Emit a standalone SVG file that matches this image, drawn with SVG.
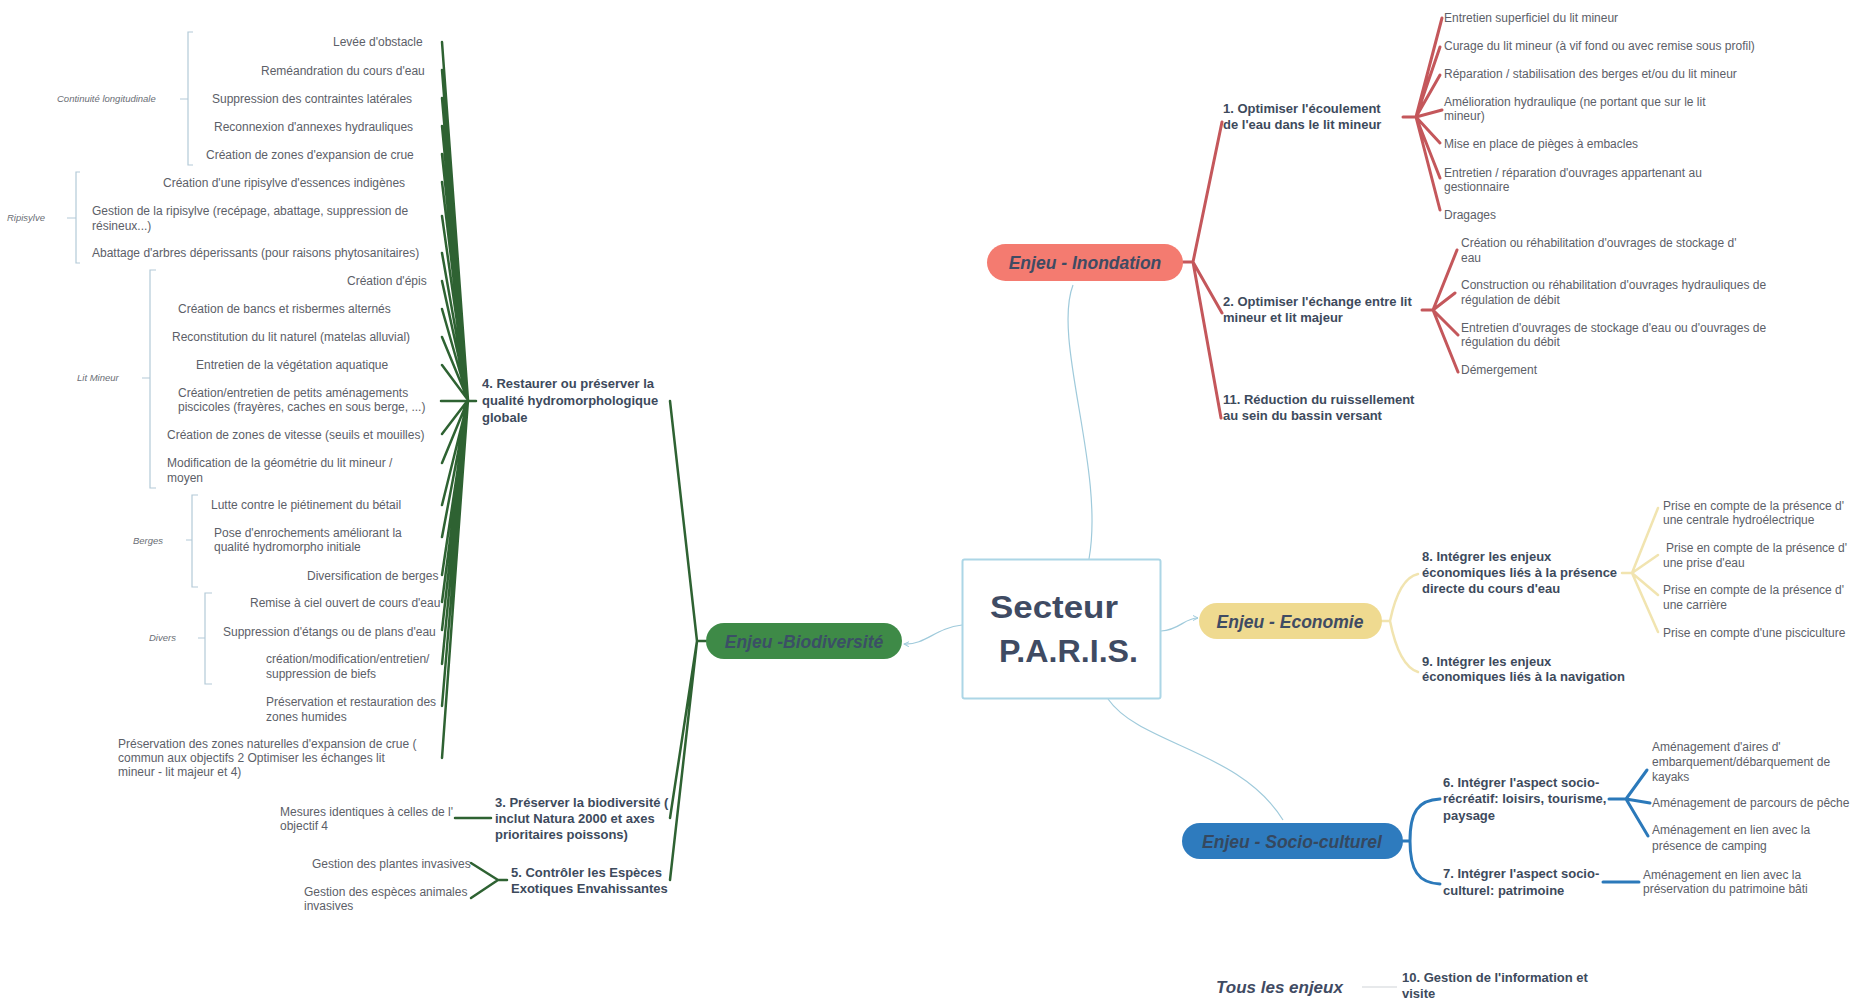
<svg xmlns="http://www.w3.org/2000/svg" width="1853" height="999" viewBox="0 0 1853 999">
<style>
text{font-family:"Liberation Sans",Arial,sans-serif}
.it{font-size:12px;fill:#5c6068}
.lb{font-size:13px;font-weight:bold;fill:#3d4a5c}
.ct{font-size:9.5px;font-style:italic;fill:#6a6e75}
.pt{font-size:17.5px;font-weight:bold;font-style:italic;text-anchor:middle}
.g{stroke:#2e6232;stroke-width:2.5;fill:none;stroke-linecap:round}
.r{stroke:#c4575b;stroke-width:3;fill:none;stroke-linecap:round}
.y{stroke:#f1e4b0;stroke-width:2.5;fill:none;stroke-linecap:round}
.b{stroke:#2b79ba;stroke-width:3;fill:none;stroke-linecap:round}
.br{stroke:#b3cad8;stroke-width:1.2;fill:none}
.cc{stroke:#9fcadb;stroke-width:1.2;fill:none}
</style>
<defs>
<marker id="ah" markerWidth="6" markerHeight="6" refX="5" refY="3" orient="auto" markerUnits="userSpaceOnUse">
<path d="M0,0.5 L5,3 L0,5.5" fill="none" stroke="#9fcadb" stroke-width="1"/>
</marker>
</defs>
<rect width="1853" height="999" fill="#ffffff"/>

<g id="connectors">
<!-- center to main topics -->
<path class="cc" d="M1089,559 C1105,470 1052,340 1073,285"/>
<path class="cc" d="M1161,631 C1180,630 1184,618 1198,618" marker-end="url(#ah)"/>
<path class="cc" d="M962,625 C935,628 926,645 904,644" marker-end="url(#ah)"/>
<path class="cc" d="M1108,699 C1140,745 1240,750 1283,820"/>

<!-- Inondation -->
<path class="r" d="M1183,262 H1193 M1193,262 L1222,122 M1193,262 L1222,313 M1193,262 L1221,418"/>
<path class="r" d="M1403,117 H1416 M1416,117 L1442,18 M1416,117 L1440,47 M1416,117 L1440,75 M1416,117 L1442,110 M1416,117 L1440,143 M1416,117 L1440,178 M1416,117 L1440,210"/>
<path class="r" d="M1422,310 H1433 M1433,310 L1457,250 M1433,310 L1455,293 M1433,310 L1458,335 M1433,310 L1458,372"/>

<!-- Economie -->
<path class="y" d="M1382,621 H1390 M1390,621 Q1399,578 1418,574 M1390,621 Q1399,666 1418,672"/>
<path class="y" d="M1622,573 H1632 M1632,573 L1658,508 M1632,573 L1658,555 M1632,573 L1658,595 M1632,573 L1658,632" stroke-width="2"/>

<!-- Socio-culturel -->
<path class="b" d="M1403,841 H1410 M1410,841 C1410,812 1418,800 1440,799 M1410,841 C1410,870 1418,883 1440,884"/>
<path class="b" d="M1609,799 H1626 M1626,799 L1647,770 M1626,799 L1650,803 M1626,799 L1648,836"/>
<path class="b" d="M1603,882 H1639"/>

<!-- Tous les enjeux -->
<path d="M1362,987 H1397" stroke="#cfd3d8" stroke-width="1.2" fill="none"/>

<!-- Biodiversite -->
<path class="g" d="M706,641 H697 M697,641 L670,401 M697,641 L670,818 M697,641 L670,880"/>
<path class="g" d="M476,401 H441"/>
<path class="g" d="M468,400 L442,42 M468,400 L442,70 M468,400 L442,98 M468,400 L442,126 M468,400 L442,154 M468,400 L442,182 M468,400 L442,216 M468,400 L442,253 M468,400 L442,281 M468,400 L442,309 M468,400 L442,337 M468,400 L442,365 M468,400 L442,434 M468,400 L442,463 M468,400 L442,505 M468,400 L442,537 M468,400 L442,575 M468,400 L442,602 M468,400 L442,630 M468,400 L442,664 M468,400 L442,706 M468,400 L442,758"/>
<path class="g" d="M455,818 H491"/>
<path class="g" d="M507,880 H498 M498,880 L471,863 M498,880 L471,898"/>

<!-- brackets -->
<path class="br" d="M193,32 H188 V165 H193 M180,99 H188"/>
<path class="br" d="M80,172 H76 V263 H80 M67,218 H76"/>
<path class="br" d="M156,270 H150 V488 H156 M142,378 H150"/>
<path class="br" d="M198,495 H192 V587 H198 M186,540 H192"/>
<path class="br" d="M212,593 H205 V684 H212 M198,638 H205"/>
</g>

<g id="center">
<rect x="962.5" y="559.5" width="198" height="139" rx="2" fill="#ffffff" stroke="#acd6e6" stroke-width="2"/>
<text x="990" y="618" font-size="32" font-weight="bold" fill="#3f4b63" textLength="128" lengthAdjust="spacingAndGlyphs">Secteur</text>
<text x="999" y="662" font-size="32" font-weight="bold" fill="#3f4b63" textLength="139" lengthAdjust="spacingAndGlyphs">P.A.R.I.S.</text>
</g>

<g id="enjeu-inondation">
<rect x="987" y="244" width="196" height="37" rx="18.5" fill="#f47b70"/>
<text class="pt" x="1085" y="269" fill="#3f4b63">Enjeu - Inondation</text>
</g>
<g id="enjeu-economie">
<rect x="1199" y="603" width="183" height="36" rx="18" fill="#efda90"/>
<text class="pt" x="1290" y="628" fill="#3f4b63">Enjeu - Economie</text>
</g>
<g id="enjeu-socio">
<rect x="1182" y="823" width="221" height="36" rx="18" fill="#2e7bbe"/>
<text class="pt" x="1292" y="848" fill="#35485f">Enjeu - Socio-culturel</text>
</g>
<g id="enjeu-biodiversite">
<rect x="706" y="623" width="196" height="36" rx="18" fill="#3e8a47"/>
<text class="pt" x="804" y="648" fill="#3b4f66">Enjeu -Biodiversité</text>
</g>

<g id="inondation-1">
<text class="lb" x="1223" y="113">1. Optimiser l'écoulement</text>
<text class="lb" x="1223" y="129">de l'eau dans le lit mineur</text>
</g>
<g id="inondation-1-items">
<text class="it" x="1444" y="22">Entretien superficiel du lit mineur</text>
<text class="it" x="1444" y="50">Curage du lit mineur (à vif fond ou avec remise sous profil)</text>
<text class="it" x="1444" y="78">Réparation / stabilisation des berges et/ou du lit mineur</text>
<text class="it" x="1444" y="106">Amélioration hydraulique (ne portant que sur le lit</text>
<text class="it" x="1444" y="120">mineur)</text>
<text class="it" x="1444" y="148">Mise en place de pièges à embacles</text>
<text class="it" x="1444" y="177">Entretien / réparation d'ouvrages appartenant au</text>
<text class="it" x="1444" y="191">gestionnaire</text>
<text class="it" x="1444" y="219">Dragages</text>
</g>
<g id="inondation-2">
<text class="lb" x="1223" y="306">2. Optimiser l'échange entre lit</text>
<text class="lb" x="1223" y="322">mineur et lit majeur</text>
</g>
<g id="inondation-2-items">
<text class="it" x="1461" y="247">Création ou réhabilitation d'ouvrages de stockage d'</text>
<text class="it" x="1461" y="262">eau</text>
<text class="it" x="1461" y="289">Construction ou réhabilitation d'ouvrages hydrauliques de</text>
<text class="it" x="1461" y="304">régulation de débit</text>
<text class="it" x="1461" y="332">Entretien d'ouvrages de stockage d'eau ou d'ouvrages de</text>
<text class="it" x="1461" y="346">régulation du débit</text>
<text class="it" x="1461" y="374">Démergement</text>
</g>
<g id="inondation-11">
<text class="lb" x="1223" y="404">11. Réduction du ruissellement</text>
<text class="lb" x="1223" y="420">au sein du bassin versant</text>
</g>

<g id="economie-8">
<text class="lb" x="1422" y="561">8. Intégrer les enjeux</text>
<text class="lb" x="1422" y="577">économiques liés à la présence</text>
<text class="lb" x="1422" y="593">directe du cours d'eau</text>
</g>
<g id="economie-8-items">
<text class="it" x="1663" y="510">Prise en compte de la présence d'</text>
<text class="it" x="1663" y="524">une centrale hydroélectrique</text>
<text class="it" x="1666" y="552">Prise en compte de la présence d'</text>
<text class="it" x="1663" y="567">une prise d'eau</text>
<text class="it" x="1663" y="594">Prise en compte de la présence d'</text>
<text class="it" x="1663" y="609">une carrière</text>
<text class="it" x="1663" y="637">Prise en compte d'une pisciculture</text>
</g>
<g id="economie-9">
<text class="lb" x="1422" y="666">9. Intégrer les enjeux</text>
<text class="lb" x="1422" y="681">économiques liés à la navigation</text>
</g>

<g id="socio-6">
<text class="lb" x="1443" y="787">6. Intégrer l'aspect socio-</text>
<text class="lb" x="1443" y="803">récréatif: loisirs, tourisme,</text>
<text class="lb" x="1443" y="820">paysage</text>
</g>
<g id="socio-6-items">
<text class="it" x="1652" y="751">Aménagement d'aires d'</text>
<text class="it" x="1652" y="766">embarquement/débarquement de</text>
<text class="it" x="1652" y="781">kayaks</text>
<text class="it" x="1652" y="807">Aménagement de parcours de pêche</text>
<text class="it" x="1652" y="834">Aménagement en lien avec la</text>
<text class="it" x="1652" y="850">présence de camping</text>
</g>
<g id="socio-7">
<text class="lb" x="1443" y="878">7. Intégrer l'aspect socio-</text>
<text class="lb" x="1443" y="895">culturel: patrimoine</text>
</g>
<g id="socio-7-item">
<text class="it" x="1643" y="879">Aménagement en lien avec la</text>
<text class="it" x="1643" y="893">préservation du patrimoine bâti</text>
</g>

<g id="tous-les-enjeux">
<text x="1216" y="993" font-size="17" font-weight="bold" font-style="italic" fill="#3f4b63">Tous les enjeux</text>
</g>
<g id="objectif-10">
<text class="lb" x="1402" y="982">10. Gestion de l'information et</text>
<text class="lb" x="1402" y="998">visite</text>
</g>

<g id="biodiv-4">
<text class="lb" x="482" y="388">4. Restaurer ou préserver la</text>
<text class="lb" x="482" y="405">qualité hydromorphologique</text>
<text class="lb" x="482" y="422">globale</text>
</g>
<g id="biodiv-4-categories">
<text class="ct" x="57" y="102">Continuité longitudinale</text>
<text class="ct" x="7" y="221">Ripisylve</text>
<text class="ct" x="77" y="381">Lit Mineur</text>
<text class="ct" x="133" y="544">Berges</text>
<text class="ct" x="149" y="641">Divers</text>
</g>
<g id="biodiv-4-items">
<text class="it" x="333" y="46">Levée d'obstacle</text>
<text class="it" x="261" y="75">Reméandration du cours d'eau</text>
<text class="it" x="212" y="103">Suppression des contraintes latérales</text>
<text class="it" x="214" y="131">Reconnexion d'annexes hydrauliques</text>
<text class="it" x="206" y="159">Création de zones d'expansion de crue</text>
<text class="it" x="163" y="187">Création d'une ripisylve d'essences indigènes</text>
<text class="it" x="92" y="215">Gestion de la ripisylve (recépage, abattage, suppression de</text>
<text class="it" x="92" y="230">résineux...)</text>
<text class="it" x="92" y="257">Abattage d'arbres déperissants (pour raisons phytosanitaires)</text>
<text class="it" x="347" y="285">Création d'épis</text>
<text class="it" x="178" y="313">Création de bancs et risbermes alternés</text>
<text class="it" x="172" y="341">Reconstitution du lit naturel (matelas alluvial)</text>
<text class="it" x="196" y="369">Entretien de la végétation aquatique</text>
<text class="it" x="178" y="397">Création/entretien de petits aménagements</text>
<text class="it" x="178" y="411">piscicoles (frayères, caches en sous berge, ...)</text>
<text class="it" x="167" y="439">Création de zones de vitesse (seuils et mouilles)</text>
<text class="it" x="167" y="467">Modification de la géométrie du lit mineur /</text>
<text class="it" x="167" y="482">moyen</text>
<text class="it" x="211" y="509">Lutte contre le piétinement du bétail</text>
<text class="it" x="214" y="537">Pose d'enrochements améliorant la</text>
<text class="it" x="214" y="551">qualité hydromorpho initiale</text>
<text class="it" x="307" y="580">Diversification de berges</text>
<text class="it" x="250" y="607">Remise à ciel ouvert de cours d'eau</text>
<text class="it" x="223" y="636">Suppression d'étangs ou de plans d'eau</text>
<text class="it" x="266" y="663">création/modification/entretien/</text>
<text class="it" x="266" y="678">suppression de biefs</text>
<text class="it" x="266" y="706">Préservation et restauration des</text>
<text class="it" x="266" y="721">zones humides</text>
<text class="it" x="118" y="748">Préservation des zones naturelles d'expansion de crue (</text>
<text class="it" x="118" y="762">commun aux objectifs 2 Optimiser les échanges lit</text>
<text class="it" x="118" y="776">mineur - lit majeur et 4)</text>
</g>

<g id="biodiv-3">
<text class="lb" x="495" y="807">3. Préserver la biodiversité (</text>
<text class="lb" x="495" y="823">inclut Natura 2000 et axes</text>
<text class="lb" x="495" y="839">prioritaires poissons)</text>
</g>
<g id="biodiv-3-item">
<text class="it" x="280" y="816">Mesures identiques à celles de l'</text>
<text class="it" x="280" y="830">objectif 4</text>
</g>
<g id="biodiv-5">
<text class="lb" x="511" y="877">5. Contrôler les Espèces</text>
<text class="lb" x="511" y="893">Exotiques Envahissantes</text>
</g>
<g id="biodiv-5-items">
<text class="it" x="312" y="868">Gestion des plantes invasives</text>
<text class="it" x="304" y="896">Gestion des espèces animales</text>
<text class="it" x="304" y="910">invasives</text>
</g>
</svg>
